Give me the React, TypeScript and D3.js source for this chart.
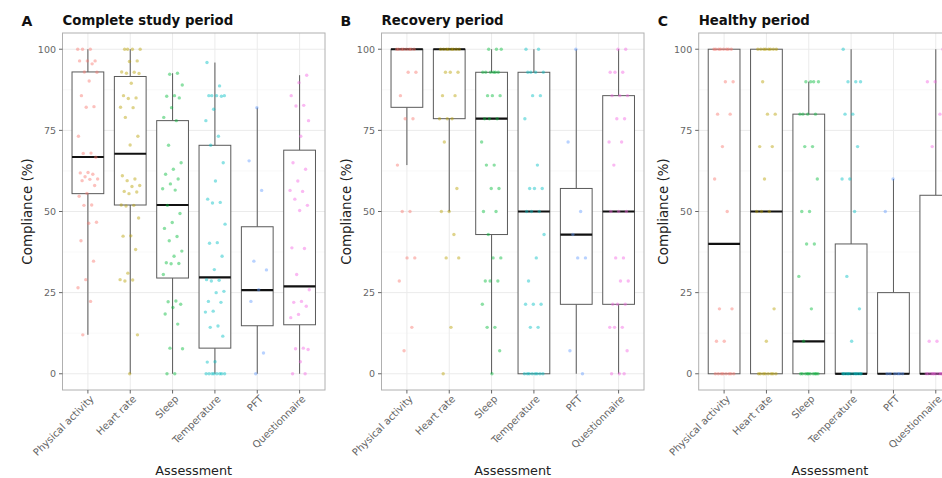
import React from "react";
import * as d3 from "d3";

const categories = ["Physical activity", "Heart rate", "Sleep", "Temperature", "PFT", "Questionnaire"];
const colors = ["#F8766D", "#B79F00", "#00BA38", "#00BFC4", "#619CFF", "#F564E3"];
const yTicks = [0, 25, 50, 75, 100];
const panelTags = ["A", "B", "C"];
const panelTitles = ["Complete study period", "Recovery period", "Healthy period"];

// box stats per panel: [low whisker, q1, median, q3, high whisker]
const boxesA = [
  [12, 55.5, 66.8, 93, 100],
  [0, 52, 67.8, 91.6, 100],
  [0, 29.5, 52, 78, 92.6],
  [0, 7.9, 29.7, 70.4, 95.9],
  [0, 14.8, 25.8, 45.3, 82],
  [0, 15.1, 26.9, 68.9, 92],
];
const boxesB = [
  [64.3, 82.1, 100, 100, 100],
  [50, 78.6, 100, 100, 100],
  [0, 42.9, 78.6, 92.9, 100],
  [0, 0, 50, 92.9, 100],
  [0, 21.4, 42.9, 57.1, 100],
  [0, 21.4, 50, 85.7, 100],
];
const boxesC = [
  [0, 0, 40, 100, 100],
  [0, 0, 50, 100, 100],
  [0, 0, 10, 80, 90],
  [0, 0, 0, 40, 100],
  [0, 0, 0, 25, 60],
  [0, 0, 0, 55, 100],
];

const pointsA = [
  [100, 100, 100, 96.4, 96.4, 96.4, 95.5, 93, 92.9, 90.2, 85.7, 82.3, 82.1, 73.2, 68, 67.9, 66.7, 62, 61.9, 61.5, 60.7, 60, 59.9, 59.5, 58, 55.6, 54.7, 52, 51.9, 46.7, 46.4, 41, 34.7, 29, 26.5, 22.3, 12],
  [100, 100, 100, 100, 96.4, 96.2, 93, 92.9, 92.6, 92.5, 89.5, 85.7, 85, 84.8, 82.1, 82, 79, 73.2, 70.5, 61, 60, 59.5, 58, 57.7, 56.2, 56, 55.5, 52, 51.9, 51.7, 48, 42.5, 42.4, 38.3, 31, 29, 28.9, 28.6, 12, 0],
  [92.6, 92.3, 89, 85.7, 85.5, 85, 82, 79, 78, 70.4, 65, 63, 61.5, 60, 58.5, 57, 56.6, 51.9, 49.4, 46.6, 44.8, 42.3, 41, 37.8, 36.2, 34.2, 34, 33.9, 30.6, 22.4, 22.2, 21.4, 20.4, 18.4, 15.3, 7.9, 7.7, 0, 0],
  [95.9, 88.7, 85.7, 85.7, 85.7, 85.7, 85.5, 81.5, 78, 73.2, 70.4, 65, 59.4, 53.8, 52.8, 52.6, 46.1, 40.4, 40.2, 36.2, 32.1, 29, 28.8, 28.6, 25.4, 25, 22.3, 22, 19.3, 19, 14.7, 14.3, 11.6, 3.7, 3.6, 0, 0, 0, 0, 0, 0, 0, 0],
  [82, 65.6, 56.5, 34.7, 32, 25.9, 22.3, 6.4, 0],
  [92, 89.7, 85.7, 82.7, 82.5, 78, 73.2, 65, 63, 59.4, 56.5, 56.2, 53.8, 51.9, 50.3, 38.8, 38.6, 30.6, 25.9, 22.3, 22, 20.8, 18.3, 17.3, 7.9, 7.7, 7.5, 3.7, 0, 0],
];
const pointsB = [
  [100, 100, 100, 100, 100, 100, 100, 100, 92.9, 92.9, 85.7, 78.6, 78.6, 64.3, 50, 50, 35.7, 35.7, 28.6, 14.3, 7.1],
  [100, 100, 100, 100, 100, 100, 100, 100, 92.9, 92.9, 92.9, 85.7, 85.7, 78.6, 78.6, 78.6, 71.4, 57.1, 50, 50, 42.9, 35.7, 35.7, 14.3, 0],
  [100, 100, 100, 92.9, 92.9, 92.9, 92.9, 92.9, 92.9, 85.7, 85.7, 85.7, 78.6, 78.6, 78.6, 71.4, 64.3, 64.3, 57.1, 57.1, 50, 50, 42.9, 35.7, 35.7, 28.6, 28.6, 28.6, 21.4, 14.3, 14.3, 7.1, 0],
  [100, 100, 92.9, 92.9, 92.9, 92.9, 85.7, 85.7, 78.6, 64.3, 57.1, 57.1, 57.1, 50, 50, 50, 42.9, 35.7, 28.6, 21.4, 21.4, 21.4, 14.3, 14.3, 0, 0, 0, 0, 0, 0, 0, 0],
  [100, 71.4, 50, 42.9, 35.7, 35.7, 7.1, 0],
  [100, 100, 92.9, 92.9, 92.9, 85.7, 85.7, 85.7, 78.6, 78.6, 71.4, 71.4, 64.3, 50, 50, 50, 35.7, 35.7, 28.6, 28.6, 21.4, 21.4, 21.4, 14.3, 14.3, 14.3, 7.1, 0, 0, 0],
];
const pointsC = [
  [100, 100, 100, 100, 100, 100, 100, 100, 90, 90, 80, 80, 70, 60, 50, 20, 20, 10, 10, 0, 0, 0, 0, 0, 0, 0, 0],
  [100, 100, 100, 100, 100, 100, 100, 100, 90, 80, 80, 70, 70, 60, 50, 50, 50, 20, 10, 0, 0, 0, 0, 0, 0, 0, 0],
  [90, 90, 90, 90, 80, 80, 80, 80, 70, 70, 60, 50, 50, 40, 40, 30, 20, 10, 0, 0, 0, 0, 0, 0, 0, 0, 0, 0],
  [100, 90, 90, 90, 80, 80, 70, 60, 60, 50, 30, 20, 10, 0, 0, 0, 0, 0, 0, 0, 0, 0, 0, 0, 0],
  [60, 50, 0, 0, 0, 0, 0, 0],
  [100, 90, 90, 80, 70, 50, 10, 10, 0, 0, 0, 0, 0, 0, 0, 0, 0, 0],
];

const allBoxes = [boxesA, boxesB, boxesC];
const allPoints = [pointsA, pointsB, pointsC];

const W = 942;
const H = 478;
const panelX0 = [62.5, 381.5, 698.7];
const panelW = 262.5;
const plotTop = 33;
const plotBottom = 390;
const FONT = "DejaVu Sans, sans-serif";

function Panel({ idx }: { idx: number }) {
  const x0 = panelX0[idx];
  const x = d3.scaleLinear().domain([0.4, categories.length + 0.6]).range([x0, x0 + panelW]);
  const y = d3.scaleLinear().domain([-5, 105]).range([plotBottom, plotTop]);
  const step = x(2) - x(1);
  const boxW = step * 0.75;
  const jit = step * 0.24;
  const boxes = allBoxes[idx];
  const pts = allPoints[idx];
  const minor = [12.5, 37.5, 62.5, 87.5];
  const clipId = `clip${idx}`;
  return (
    <g>
      <defs>
        <clipPath id={clipId}>
          <rect x={x0} y={plotTop} width={panelW} height={plotBottom - plotTop} />
        </clipPath>
      </defs>
      <g clipPath={`url(#${clipId})`}>
        <rect x={x0} y={plotTop} width={panelW} height={plotBottom - plotTop} fill="#fff" />
        {minor.map((v) => (
          <line key={"mi" + v} x1={x0} x2={x0 + panelW} y1={y(v)} y2={y(v)} stroke="#f3f3f3" strokeWidth={0.5} />
        ))}
        {yTicks.map((v) => (
          <line key={"ma" + v} x1={x0} x2={x0 + panelW} y1={y(v)} y2={y(v)} stroke="#ebebeb" strokeWidth={1} />
        ))}
        {categories.map((c, i) => (
          <line key={"vg" + i} x1={x(i + 1)} x2={x(i + 1)} y1={plotTop} y2={plotBottom} stroke="#ebebeb" strokeWidth={1} />
        ))}
        {boxes.map((b, i) => {
          const cx = x(i + 1);
          const [lo, q1, med, q3, hi] = b;
          return (
            <g key={"b" + i}>
              <line x1={cx} x2={cx} y1={y(hi)} y2={y(q3)} stroke="#5a5a5a" strokeWidth={1} />
              <line x1={cx} x2={cx} y1={y(q1)} y2={y(lo)} stroke="#5a5a5a" strokeWidth={1} />
              <rect x={cx - boxW / 2} y={y(q3)} width={boxW} height={Math.max(0, y(q1) - y(q3))} fill="#fff" stroke="#5a5a5a" strokeWidth={1} />
              <line x1={cx - boxW / 2} x2={cx + boxW / 2} y1={y(med)} y2={y(med)} stroke="#111" strokeWidth={2.2} />
            </g>
          );
        })}
        {pts.map((arr, i) =>
          arr.map((v, j) => {
            const f = ((j * 0.6180339887 + i * 0.37) % 1) - 0.5;
            return (
              <circle key={`p${i}-${j}`} cx={x(i + 1) + f * 2 * jit} cy={y(v)} r={1.7} fill={colors[i]} fillOpacity={0.45} />
            );
          })
        )}
      </g>
      <rect x={x0} y={plotTop} width={panelW} height={plotBottom - plotTop} fill="none" stroke="#b0b0b0" strokeWidth={1} />
      {yTicks.map((v) => (
        <g key={"yt" + v}>
          <line x1={x0 - 3.5} x2={x0} y1={y(v)} y2={y(v)} stroke="#666" strokeWidth={1} />
          <text x={x0 - 6.5} y={y(v)} dy="0.35em" textAnchor="end" fontSize={9.5} fill="#666" fontFamily={FONT}>
            {v}
          </text>
        </g>
      ))}
      {categories.map((c, i) => (
        <g key={"xt" + i}>
          <line x1={x(i + 1)} x2={x(i + 1)} y1={plotBottom} y2={plotBottom + 3.5} stroke="#666" strokeWidth={1} />
          <text
            transform={`translate(${x(i + 1) + 3},${plotBottom + 6}) rotate(-45)`}
            textAnchor="end"
            dy="0.5em"
            fontSize={10}
            fill="#666"
            fontFamily={FONT}
          >
            {c}
          </text>
        </g>
      ))}
      <text
        transform={`translate(${x0 - 35.5},${(plotTop + plotBottom) / 2}) rotate(-90)`}
        textAnchor="middle"
        dy="0.35em"
        fontSize={13.4}
        fill="#222"
        fontFamily={FONT}
      >
        Compliance (%)
      </text>
      <text x={x0 + panelW / 2} y={474.5} textAnchor="middle" fontSize={12.8} fill="#222" fontFamily={FONT}>
        Assessment
      </text>
      <text x={x0 - 41} y={26} fontSize={14} fontWeight="bold" fill="#111" fontFamily={FONT}>
        {panelTags[idx]}
      </text>
      <text x={x0} y={24.5} fontSize={13.3} fontWeight="bold" fill="#111" fontFamily={FONT}>
        {panelTitles[idx]}
      </text>
    </g>
  );
}

export default function App() {
  return (
    <svg width={W} height={H} style={{ position: "absolute", left: 0, top: 0, background: "#fff" }}>
      <rect x={0} y={0} width={W} height={H} fill="#fff" />
      {[0, 1, 2].map((i) => (
        <Panel key={i} idx={i} />
      ))}
    </svg>
  );
}
